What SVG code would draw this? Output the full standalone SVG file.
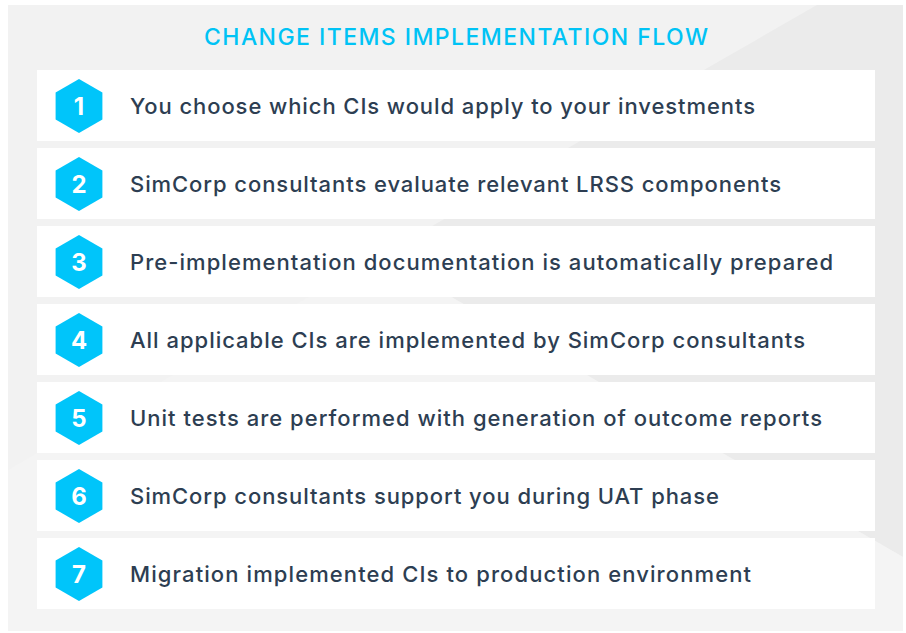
<svg xmlns="http://www.w3.org/2000/svg" xmlns:xlink="http://www.w3.org/1999/xlink" width="906" height="633" viewBox="0 0 906 633">
  <style>
    .row { fill: #ffffff; }
    .hex { fill: #00c5fa; }
    .num { font-family: Inter, "Liberation Sans", sans-serif; font-weight: 700; font-size: 24px; fill: #ffffff; text-anchor: middle; }
    .lbl { font-family: Inter, "Liberation Sans", sans-serif; font-weight: 500; font-size: 22px; fill: #2d3e52; }
    .title { font-family: Inter, "Liberation Sans", sans-serif; font-weight: 500; font-size: 23px; fill: #00c3f5; }
  </style>
  <defs>
    <polygon id="hexShape" points="0,-27 23.4,-13.5 23.4,13.5 0,27 -23.4,13.5 -23.4,-13.5"/>
  </defs>
  <rect x="0" y="0" width="906" height="633" fill="#ffffff"/>
  <g id="background">
    <rect x="8" y="5" width="895" height="626" fill="#f2f2f2"/>
    <polygon points="817,5 903,5 903,557 380,256" fill="#ebebeb"/>
    <polygon points="380,256 903,557 903,631 8,631 8,470" fill="#f4f4f4"/>
  </g>
  <g id="title">
    <text class="title" x="204" y="45" textLength="504" lengthAdjust="spacing">CHANGE ITEMS IMPLEMENTATION FLOW</text>
  </g>
  <g id="step1">
    <rect class="row" x="37" y="70" width="838" height="71"/>
    <use xlink:href="#hexShape" class="hex" x="79" y="106"/>
    <text class="num" x="79" y="115">1</text>
    <text class="lbl" x="130" y="114" textLength="625" lengthAdjust="spacing">You choose which CIs would apply to your investments</text>
  </g>
  <g id="step2">
    <rect class="row" x="37" y="148" width="838" height="71"/>
    <use xlink:href="#hexShape" class="hex" x="79" y="184"/>
    <text class="num" x="79" y="193">2</text>
    <text class="lbl" x="130" y="192" textLength="651" lengthAdjust="spacing">SimCorp consultants evaluate relevant LRSS components</text>
  </g>
  <g id="step3">
    <rect class="row" x="37" y="226" width="838" height="71"/>
    <use xlink:href="#hexShape" class="hex" x="79" y="262"/>
    <text class="num" x="79" y="271">3</text>
    <text class="lbl" x="130" y="270" textLength="703" lengthAdjust="spacing">Pre-implementation documentation is automatically prepared</text>
  </g>
  <g id="step4">
    <rect class="row" x="37" y="304" width="838" height="71"/>
    <use xlink:href="#hexShape" class="hex" x="79" y="340"/>
    <text class="num" x="79" y="349">4</text>
    <text class="lbl" x="130" y="348" textLength="675" lengthAdjust="spacing">All applicable CIs are implemented by SimCorp consultants</text>
  </g>
  <g id="step5">
    <rect class="row" x="37" y="382" width="838" height="71"/>
    <use xlink:href="#hexShape" class="hex" x="79" y="418"/>
    <text class="num" x="79" y="427">5</text>
    <text class="lbl" x="130" y="426" textLength="692" lengthAdjust="spacing">Unit tests are performed with generation of outcome reports</text>
  </g>
  <g id="step6">
    <rect class="row" x="37" y="460" width="838" height="71"/>
    <use xlink:href="#hexShape" class="hex" x="79" y="496"/>
    <text class="num" x="79" y="505">6</text>
    <text class="lbl" x="130" y="504" textLength="589" lengthAdjust="spacing">SimCorp consultants support you during UAT phase</text>
  </g>
  <g id="step7">
    <rect class="row" x="37" y="538" width="838" height="71"/>
    <use xlink:href="#hexShape" class="hex" x="79" y="574"/>
    <text class="num" x="79" y="583">7</text>
    <text class="lbl" x="130" y="582" textLength="621" lengthAdjust="spacing">Migration implemented CIs to production environment</text>
  </g>
</svg>
